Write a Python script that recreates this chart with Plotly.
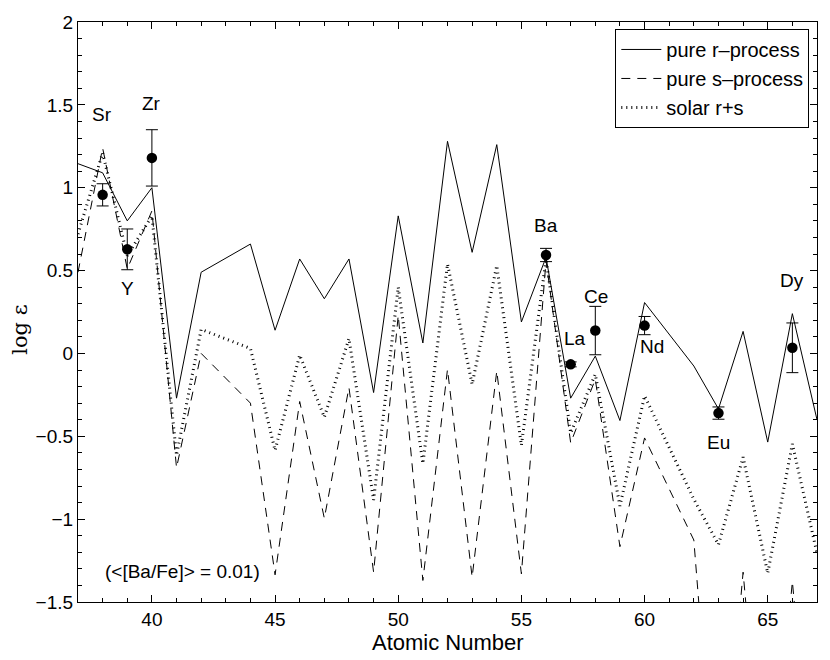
import plotly.graph_objects as go

# ---------------- data ----------------
Z = [37, 38, 39, 40, 41, 42, 44, 45, 46, 47, 48, 49, 50, 51, 52, 53, 54, 55,
     56, 57, 58, 59, 60, 62, 63, 64, 65, 66, 67]
r_process = [1.145, 1.09, 0.80, 1.0, -0.27, 0.49, 0.66, 0.14, 0.57, 0.33, 0.57,
             -0.236, 0.83, 0.063, 1.28, 0.61, 1.26, 0.19, 0.58, -0.27, -0.016,
             -0.405, 0.307, -0.076, -0.335, 0.133, -0.535, 0.24, -0.40]
s_process = [0.49, 1.24, 0.51, 0.86, -0.69, 0.0, -0.30, -1.336, -0.29, -0.995,
             -0.206, -1.32, 0.23, -1.37, -0.096, -1.35, -0.106, -1.33, 0.56,
             -0.54, -0.156, -1.166, -0.51, -1.126, -3.0, -1.32, -3.0, -1.376, -3.0]
solar_rs = [0.72, 1.21, 0.59, 0.83, -0.615, 0.145, 0.03, -0.585, -0.01, -0.385,
            0.09, -0.885, 0.40, -0.665, 0.54, -0.186, 0.53, -0.555, 0.57, -0.48,
            -0.126, -0.92, -0.256, -0.88, -1.154, -0.626, -1.326, -0.546, -1.206]

obs_Z = [38, 39, 40, 56, 57, 58, 60, 63, 66]
obs_val = [0.957, 0.628, 1.18, 0.594, -0.066, 0.138, 0.168, -0.36, 0.034]
obs_err = [0.067, 0.123, 0.17, 0.04, 0.015, 0.146, 0.055, 0.037, 0.15]

elem_names = ["Sr", "Y", "Zr", "Ba", "La", "Ce", "Nd", "Eu", "Dy"]
elem_label_x = [37.97, 38.99, 40.0, 56.01, 57.16, 58.01, 60.29, 63.0, 65.98]
elem_label_y = [1.443, 0.39, 1.51, 0.774, 0.09, 0.344, 0.044, -0.536, 0.438]

x_ticks = [40, 45, 50, 55, 60, 65]
y_ticks = [-1.5, -1, -0.5, 0, 0.5, 1, 1.5, 2]
y_ticktext = ["\u22121.5", "\u22121", "\u22120.5", "0", "0.5", "1", "1.5", "2"]

FONT = "Liberation Sans, Arial, Helvetica, sans-serif"

fig = go.Figure()
fig.add_trace(go.Scatter(x=Z, y=r_process, mode="lines", name="pure r\u2013process",
                         line=dict(color="black", width=1)))
fig.add_trace(go.Scatter(x=Z, y=s_process, mode="lines", name="pure s\u2013process",
                         line=dict(color="black", width=1, dash="9px,7px")))
fig.add_trace(go.Scatter(x=Z, y=solar_rs, mode="lines", name="solar r+s",
                         line=dict(color="black", width=3, dash="1px,4px")))
fig.add_trace(go.Scatter(x=obs_Z, y=obs_val, mode="markers", showlegend=False,
                         marker=dict(color="black", size=10.5),
                         error_y=dict(type="data", array=obs_err, color="black",
                                      thickness=1, width=6)))

for name, lx, ly in zip(elem_names, elem_label_x, elem_label_y):
    fig.add_annotation(x=lx, y=ly, text=name, showarrow=False,
                       font=dict(family=FONT, size=19, color="black"),
                       xanchor="center", yanchor="middle")

fig.add_annotation(x=41.26, y=-1.316, text="(&lt;[Ba/Fe]&gt; = 0.01)", showarrow=False,
                   font=dict(family=FONT, size=19, color="black"),
                   xanchor="center", yanchor="middle")

# axis titles as annotations for exact placement
fig.add_annotation(xref="paper", yref="paper", x=-0.078, y=0.47, text="log \u03b5",
                   textangle=-90, showarrow=False,
                   font=dict(family="DejaVu Serif, Liberation Serif, serif", size=21, color="black"),
                   xanchor="center", yanchor="middle")
fig.add_annotation(xref="paper", yref="paper", x=0.5, y=-0.070, text="Atomic Number",
                   showarrow=False,
                   font=dict(family=FONT, size=22, color="black"),
                   xanchor="center", yanchor="middle")

axis_common = dict(showline=True, linecolor="black", linewidth=1.2, mirror="ticks",
                   ticks="inside", ticklen=7, tickcolor="black", tickwidth=1,
                   showgrid=False, zeroline=False,
                   tickfont=dict(family=FONT, size=19, color="black"))

fig.update_xaxes(range=[37, 67], tickvals=x_ticks,
                 minor=dict(ticks="inside", ticklen=4, dtick=1, tickcolor="black",
                            showgrid=False),
                 **axis_common)
fig.update_yaxes(range=[-1.5, 2], tickvals=y_ticks, ticktext=y_ticktext,
                 minor=dict(ticks="inside", ticklen=4, dtick=0.1, tickcolor="black",
                            showgrid=False),
                 **axis_common)

fig.update_layout(
    width=830, height=660, autosize=False,
    margin=dict(l=78, r=12, t=19, b=58),
    paper_bgcolor="white", plot_bgcolor="white",
    font=dict(family=FONT, size=19, color="black"),
    legend=dict(x=0.9896, y=0.988, xanchor="right", yanchor="top",
                bgcolor="white", bordercolor="black", borderwidth=1,
                font=dict(family=FONT, size=20, color="black"),
                tracegroupgap=0, itemwidth=40),
)

fig.write_html("out.html", config={"displayModeBar": False},
               post_script="document.body.style.margin='0';document.body.style.padding='0';")
